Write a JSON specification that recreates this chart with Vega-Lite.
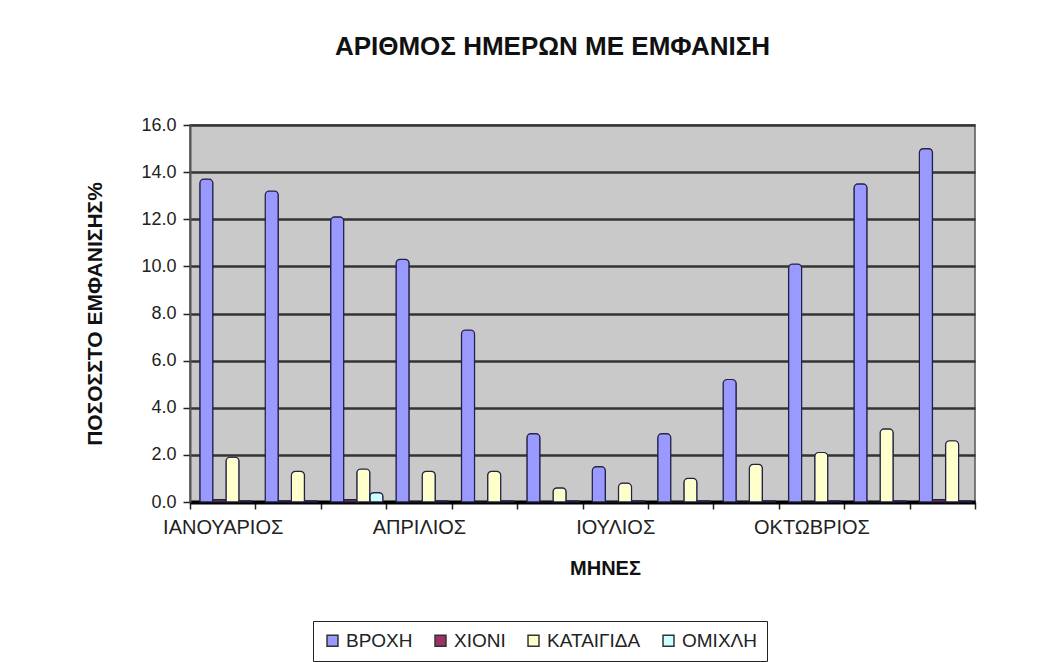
{
  "$schema": "https://vega.github.io/schema/vega-lite/v6.json",
  "width": 785,
  "height": 377,
  "autosize": {"type": "none"},
  "padding": {"left": 190, "top": 125, "right": 85, "bottom": 160},
  "background": "white",
  "title": {
    "text": "ΑΡΙΘΜΟΣ ΗΜΕΡΩΝ ΜΕ ΕΜΦΑΝΙΣΗ",
    "font": "Liberation Sans",
    "fontSize": 26,
    "fontWeight": "bold",
    "color": "#111",
    "anchor": "middle",
    "dx": -30,
    "offset": 56
  },
  "datasets": {
    "main": [
      {"month": "ΙΑΝΟΥΑΡΙΟΣ", "type": "ΒΡΟΧΗ", "value": 13.7},
      {"month": "ΙΑΝΟΥΑΡΙΟΣ", "type": "ΧΙΟΝΙ", "value": 0.1},
      {"month": "ΙΑΝΟΥΑΡΙΟΣ", "type": "ΚΑΤΑΙΓΙΔΑ", "value": 1.9},
      {"month": "ΙΑΝΟΥΑΡΙΟΣ", "type": "ΟΜΙΧΛΗ", "value": 0.05},
      {"month": "ΦΕΒΡΟΥΑΡΙΟΣ", "type": "ΒΡΟΧΗ", "value": 13.2},
      {"month": "ΦΕΒΡΟΥΑΡΙΟΣ", "type": "ΧΙΟΝΙ", "value": 0.05},
      {"month": "ΦΕΒΡΟΥΑΡΙΟΣ", "type": "ΚΑΤΑΙΓΙΔΑ", "value": 1.3},
      {"month": "ΦΕΒΡΟΥΑΡΙΟΣ", "type": "ΟΜΙΧΛΗ", "value": 0.05},
      {"month": "ΜΑΡΤΙΟΣ", "type": "ΒΡΟΧΗ", "value": 12.1},
      {"month": "ΜΑΡΤΙΟΣ", "type": "ΧΙΟΝΙ", "value": 0.1},
      {"month": "ΜΑΡΤΙΟΣ", "type": "ΚΑΤΑΙΓΙΔΑ", "value": 1.4},
      {"month": "ΜΑΡΤΙΟΣ", "type": "ΟΜΙΧΛΗ", "value": 0.4},
      {"month": "ΑΠΡΙΛΙΟΣ", "type": "ΒΡΟΧΗ", "value": 10.3},
      {"month": "ΑΠΡΙΛΙΟΣ", "type": "ΧΙΟΝΙ", "value": 0.0},
      {"month": "ΑΠΡΙΛΙΟΣ", "type": "ΚΑΤΑΙΓΙΔΑ", "value": 1.3},
      {"month": "ΑΠΡΙΛΙΟΣ", "type": "ΟΜΙΧΛΗ", "value": 0.05},
      {"month": "ΜΑΪΟΣ", "type": "ΒΡΟΧΗ", "value": 7.3},
      {"month": "ΜΑΪΟΣ", "type": "ΧΙΟΝΙ", "value": 0.0},
      {"month": "ΜΑΪΟΣ", "type": "ΚΑΤΑΙΓΙΔΑ", "value": 1.3},
      {"month": "ΜΑΪΟΣ", "type": "ΟΜΙΧΛΗ", "value": 0.05},
      {"month": "ΙΟΥΝΙΟΣ", "type": "ΒΡΟΧΗ", "value": 2.9},
      {"month": "ΙΟΥΝΙΟΣ", "type": "ΧΙΟΝΙ", "value": 0.0},
      {"month": "ΙΟΥΝΙΟΣ", "type": "ΚΑΤΑΙΓΙΔΑ", "value": 0.6},
      {"month": "ΙΟΥΝΙΟΣ", "type": "ΟΜΙΧΛΗ", "value": 0.05},
      {"month": "ΙΟΥΛΙΟΣ", "type": "ΒΡΟΧΗ", "value": 1.5},
      {"month": "ΙΟΥΛΙΟΣ", "type": "ΧΙΟΝΙ", "value": 0.0},
      {"month": "ΙΟΥΛΙΟΣ", "type": "ΚΑΤΑΙΓΙΔΑ", "value": 0.8},
      {"month": "ΙΟΥΛΙΟΣ", "type": "ΟΜΙΧΛΗ", "value": 0.05},
      {"month": "ΑΥΓΟΥΣΤΟΣ", "type": "ΒΡΟΧΗ", "value": 2.9},
      {"month": "ΑΥΓΟΥΣΤΟΣ", "type": "ΧΙΟΝΙ", "value": 0.0},
      {"month": "ΑΥΓΟΥΣΤΟΣ", "type": "ΚΑΤΑΙΓΙΔΑ", "value": 1.0},
      {"month": "ΑΥΓΟΥΣΤΟΣ", "type": "ΟΜΙΧΛΗ", "value": 0.05},
      {"month": "ΣΕΠΤΕΜΒΡΙΟΣ", "type": "ΒΡΟΧΗ", "value": 5.2},
      {"month": "ΣΕΠΤΕΜΒΡΙΟΣ", "type": "ΧΙΟΝΙ", "value": 0.0},
      {"month": "ΣΕΠΤΕΜΒΡΙΟΣ", "type": "ΚΑΤΑΙΓΙΔΑ", "value": 1.6},
      {"month": "ΣΕΠΤΕΜΒΡΙΟΣ", "type": "ΟΜΙΧΛΗ", "value": 0.05},
      {"month": "ΟΚΤΩΒΡΙΟΣ", "type": "ΒΡΟΧΗ", "value": 10.1},
      {"month": "ΟΚΤΩΒΡΙΟΣ", "type": "ΧΙΟΝΙ", "value": 0.0},
      {"month": "ΟΚΤΩΒΡΙΟΣ", "type": "ΚΑΤΑΙΓΙΔΑ", "value": 2.1},
      {"month": "ΟΚΤΩΒΡΙΟΣ", "type": "ΟΜΙΧΛΗ", "value": 0.05},
      {"month": "ΝΟΕΜΒΡΙΟΣ", "type": "ΒΡΟΧΗ", "value": 13.5},
      {"month": "ΝΟΕΜΒΡΙΟΣ", "type": "ΧΙΟΝΙ", "value": 0.0},
      {"month": "ΝΟΕΜΒΡΙΟΣ", "type": "ΚΑΤΑΙΓΙΔΑ", "value": 3.1},
      {"month": "ΝΟΕΜΒΡΙΟΣ", "type": "ΟΜΙΧΛΗ", "value": 0.05},
      {"month": "ΔΕΚΕΜΒΡΙΟΣ", "type": "ΒΡΟΧΗ", "value": 15.0},
      {"month": "ΔΕΚΕΜΒΡΙΟΣ", "type": "ΧΙΟΝΙ", "value": 0.1},
      {"month": "ΔΕΚΕΜΒΡΙΟΣ", "type": "ΚΑΤΑΙΓΙΔΑ", "value": 2.6},
      {"month": "ΔΕΚΕΜΒΡΙΟΣ", "type": "ΟΜΙΧΛΗ", "value": 0.05}
    ]
  },
  "data": {"name": "main"},
  "mark": {"type": "bar", "stroke": "#222244", "strokeWidth": 1.2, "cornerRadiusTopLeft": 4, "cornerRadiusTopRight": 4},
  "encoding": {
    "x": {
      "field": "month",
      "type": "nominal",
      "sort": null,
      "scale": {"paddingInner": 0, "paddingOuter": 0},
      "axis": {
        "title": "ΜΗΝΕΣ",
        "titleFont": "Liberation Sans",
        "titleFontSize": 20,
        "titleFontWeight": "bold",
        "titleColor": "#111",
        "titleX": 415,
        "titleY": 56,
        "labelAngle": 0,
        "labelFont": "Liberation Sans",
        "labelFontSize": 20,
        "labelColor": "#222",
        "labelPadding": 8,
        "labelOverlap": false,
        "labelExpr": "indexof(['ΙΑΝΟΥΑΡΙΟΣ','ΑΠΡΙΛΙΟΣ','ΙΟΥΛΙΟΣ','ΟΚΤΩΒΡΙΟΣ'], datum.value) >= 0 ? datum.value : ''",
        "tickBand": "extent",
        "tickSize": 7,
        "tickColor": "#222",
        "tickWidth": 1.5,
        "domainColor": "#000",
        "domainWidth": 4
      }
    },
    "xOffset": {
      "field": "type",
      "type": "nominal",
      "sort": ["ΒΡΟΧΗ", "ΧΙΟΝΙ", "ΚΑΤΑΙΓΙΔΑ", "ΟΜΙΧΛΗ"],
      "scale": {"paddingInner": 0, "paddingOuter": 0.5, "align": 0.75}
    },
    "y": {
      "field": "value",
      "type": "quantitative",
      "scale": {"domain": [0, 16], "nice": false},
      "axis": {
        "title": "ΠΟΣΟΣΣΤΟ ΕΜΦΑΝΙΣΗΣ%",
        "titleFont": "Liberation Sans",
        "titleFontSize": 21,
        "titleFontWeight": "bold",
        "titleColor": "#111",
        "titlePadding": 35,
        "values": [0, 2, 4, 6, 8, 10, 12, 14, 16],
        "format": ".1f",
        "labelFont": "Liberation Sans",
        "labelFontSize": 18,
        "labelColor": "#222",
        "labelPadding": 7,
        "tickSize": 7,
        "tickColor": "#222",
        "tickWidth": 1.5,
        "domainColor": "#555",
        "domainWidth": 2,
        "grid": true,
        "gridColor": "#333333",
        "gridWidth": 2.5
      }
    },
    "color": {
      "field": "type",
      "type": "nominal",
      "sort": ["ΒΡΟΧΗ", "ΧΙΟΝΙ", "ΚΑΤΑΙΓΙΔΑ", "ΟΜΙΧΛΗ"],
      "scale": {
        "domain": ["ΒΡΟΧΗ", "ΧΙΟΝΙ", "ΚΑΤΑΙΓΙΔΑ", "ΟΜΙΧΛΗ"],
        "range": ["#9999FF", "#993366", "#FFFFCC", "#CCFFFF"]
      },
      "legend": {
        "title": null,
        "orient": "none",
        "legendX": 123,
        "legendY": 496,
        "direction": "horizontal",
        "symbolType": "square",
        "symbolSize": 120,
        "symbolStrokeColor": "#333",
        "symbolStrokeWidth": 1.5,
        "labelFont": "Liberation Sans",
        "labelFontSize": 19,
        "labelColor": "#222",
        "labelOffset": 4,
        "columnPadding": 18,
        "padding": 10,
        "strokeColor": "#222"
      }
    }
  },
  "config": {
    "view": {"fill": "#c9c9c9", "stroke": "#555", "strokeWidth": 1.5}
  }
}
